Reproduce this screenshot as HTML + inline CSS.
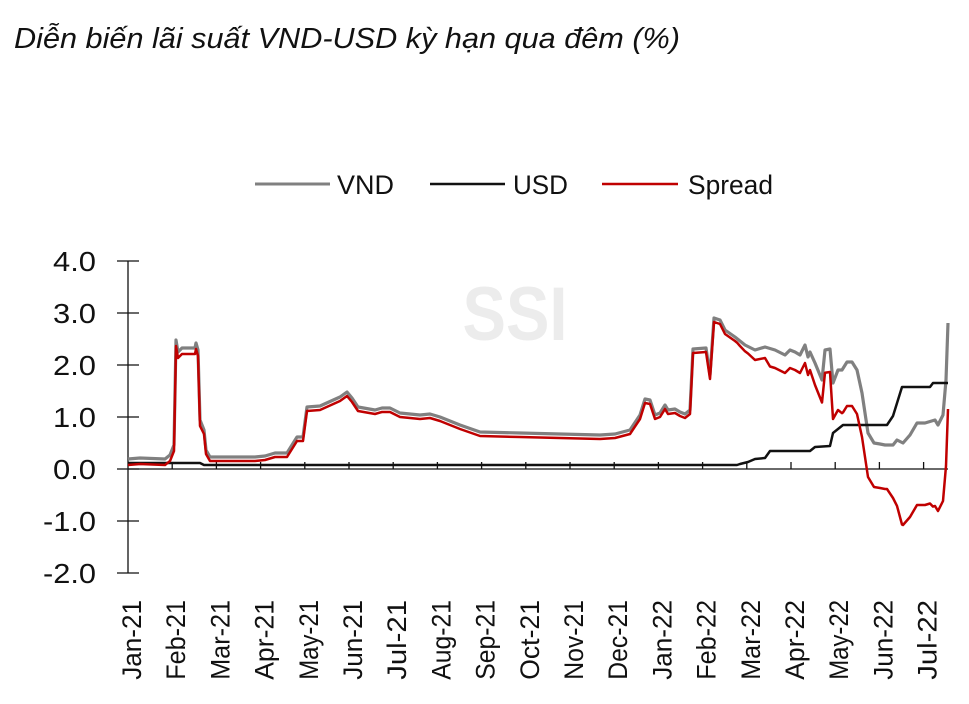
<!DOCTYPE html>
<html><head><meta charset="utf-8"><style>html,body{margin:0;padding:0;background:#fff}svg{display:block}</style></head>
<body>
<svg id="s" width="969" height="704" xmlns="http://www.w3.org/2000/svg" font-family="'Liberation Sans Narrow','Liberation Sans',sans-serif">
<text x="14" y="48" font-size="29" font-style="italic" fill="#111" textLength="666" lengthAdjust="spacingAndGlyphs">Diễn biến lãi suất VND-USD kỳ hạn qua đêm (%)</text>
<text x="515" y="340" font-size="76" font-weight="bold" fill="#ececec" text-anchor="middle" textLength="105" lengthAdjust="spacingAndGlyphs">SSI</text>
<g font-size="27" fill="#111">
<line x1="255" y1="184" x2="330" y2="184" stroke="#808080" stroke-width="3"/>
<text x="337" y="194" textLength="57" lengthAdjust="spacingAndGlyphs">VND</text>
<line x1="430" y1="184" x2="505" y2="184" stroke="#111" stroke-width="2.5"/>
<text x="513" y="194" textLength="55" lengthAdjust="spacingAndGlyphs">USD</text>
<line x1="602" y1="184" x2="678" y2="184" stroke="#c00000" stroke-width="2.5"/>
<text x="688" y="194" textLength="85" lengthAdjust="spacingAndGlyphs">Spread</text>
</g>
<g id="ax" stroke="#111" stroke-width="1.3"></g>
<g id="lab" font-size="28" fill="#111"></g>
<polyline id="vnd" fill="none" stroke="#808080" stroke-width="3.2" stroke-linejoin="round"/>
<polyline id="usd" fill="none" stroke="#111" stroke-width="2.5" stroke-linejoin="round"/>
<polyline id="spr" fill="none" stroke="#c00000" stroke-width="2.5" stroke-linejoin="round"/>
</svg>
<script>
var NS="http://www.w3.org/2000/svg",ax=document.getElementById('ax'),lab=document.getElementById('lab');
function el(p,t,a,txt){var e=document.createElementNS(NS,t);for(var k in a)e.setAttribute(k,a[k]);if(txt)e.textContent=txt;p.appendChild(e);return e;}
el(ax,'line',{x1:128,y1:261,x2:128,y2:573});
el(ax,'line',{x1:128,y1:469,x2:948,y2:469});
var yl=["4.0","3.0","2.0","1.0","0.0","-1.0","-2.0"];
for(var i=0;i<7;i++){var y=261+i*52;el(ax,'line',{x1:117,y1:y,x2:139,y2:y});
el(lab,'text',{x:96,y:y+10,'text-anchor':'end',textLength:(yl[i].length==3?43:53),lengthAdjust:'spacingAndGlyphs'},yl[i]);}
var mn=["Jan","Feb","Mar","Apr","May","Jun","Jul","Aug","Sep","Oct","Nov","Dec"];
for(var m=0;m<19;m++){var x=128+m*44.2;if(m>0)el(ax,'line',{x1:x,y1:469,x2:x,y2:462});
var s=mn[m%12]+"-"+(m<12?"21":"22");
var t=el(lab,'text',{transform:'translate('+(x+13)+',600) rotate(-90)','text-anchor':'end','font-size':27,textLength:(s.length*13.3),lengthAdjust:'spacingAndGlyphs'},s);}
var V=[[128,459],[140,458],[165,459],[170,455],[174,445],[176,340],[178,352],[182,348],[195,348],[196,343],[198,350],[200,420],[204,430],[206,450],[210,457],[230,457],[255,457],[265,456],[275,453],[287,453],[292,445],[297,437],[303,437],[307,407],[320,406],[340,397],[347,392],[352,398],[358,407],[375,410],[382,408],[390,408],[400,413],[420,415],[430,414],[440,417],[460,425],[480,432],[520,433],[560,434],[600,435],[615,434],[630,430],[640,415],[645,399],[650,400],[655,415],[660,413],[665,405],[668,410],[675,409],[680,412],[685,414],[690,410],[693,349],[706,348],[710,375],[714,318],[720,320],[725,330],[735,337],[745,345],[755,350],[765,347],[775,350],[785,355],[790,350],[795,352],[800,355],[805,345],[808,357],[810,352],[815,363],[822,380],[825,350],[830,349],[833,383],[838,370],[842,370],[847,362],[852,362],[857,370],[862,393],[868,433],[874,443],[880,444],[885,445],[893,445],[897,440],[903,443],[910,435],[917,423],[925,423],[935,420],[938,425],[943,415],[946,380],[948,323]];
var U=[[128,463],[200,463],[204,465],[737,465],[740,464],[748,462],[755,459],[765,458],[770,451],[810,451],[815,447],[830,446],[833,433],[843,425],[887,425],[893,416],[902,387],[930,387],[933,383],[948,383]];
function f(P,x){for(var i=1;i<P.length;i++)if(x<=P[i][0]){var a=P[i-1],b=P[i];return a[1]+(b[1]-a[1])*(x-a[0])/((b[0]-a[0])||1);}return P[P.length-1][1];}
function pts(P){return P.map(function(p){return p.join(',')}).join(' ');}
document.getElementById('vnd').setAttribute('points',pts(V));
document.getElementById('usd').setAttribute('points',pts(U));
var xs={};V.concat(U).forEach(function(p){xs[p[0]]=1});
var X=Object.keys(xs).map(Number).sort(function(a,b){return a-b});
document.getElementById('spr').setAttribute('points',X.map(function(x){return x+','+(f(V,x)+469-f(U,x)).toFixed(1)}).join(' '));
</script>
</body></html>
